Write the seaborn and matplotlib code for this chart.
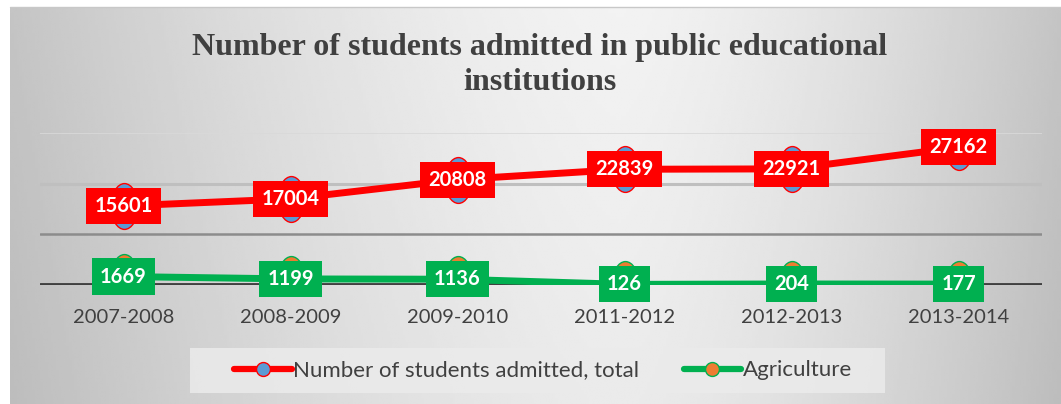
import numpy as np
import pandas as pd
import matplotlib
matplotlib.use("Agg")
import matplotlib.pyplot as plt
import seaborn as sns
from matplotlib.path import Path
from matplotlib.lines import Line2D
from matplotlib.patches import Rectangle

years = ["2007-2008", "2008-2009", "2009-2010", "2011-2012", "2012-2013", "2013-2014"]
total = [15601, 17004, 20808, 22839, 22921, 27162]
agri = [1669, 1199, 1136, 126, 204, 177]
series_names = ["Number of students admitted, total", "Agriculture"]
title = "Number of students admitted in public educational\ninstitutions"

sns.set_theme(style="white")
plt.rcParams['font.family'] = ['Lato', 'DejaVu Sans']

fig = plt.figure(figsize=(10.61, 4.04), dpi=100)

# background gradient panel
bg = fig.add_axes([10/1061, 0, 1 - 10/1061, 1 - 7/404], zorder=-10)
nx, ny = 400, 100
xs = np.linspace(0, 1, nx)
ys = np.linspace(0, 1, ny)
X, Y = np.meshgrid(xs, ys)
c = 0.58
D = np.where(X < c, (c - X) / c, (X - c) / (1 - c))
V = 0.95 - 0.18 * D ** 1.5 - 0.03 * Y
bg.imshow(V, cmap="gray", vmin=0, vmax=1, aspect="auto", extent=[0, 1, 1, 0], interpolation="bilinear")
bg.set_axis_off()
fig.add_artist(Line2D([10/1061, 1], [1 - 6.5/404, 1 - 6.5/404], color="#c8c8c8", lw=1))

ax = fig.add_axes([40/1061, (404-285)/404, 1002/1061, 152/404])
ax.patch.set_alpha(0)

df = pd.DataFrame({"year": years * 2,
                   "value": total + agri,
                   "series": [series_names[0]] * 6 + [series_names[1]] * 6})

circ = Path.unit_circle()
ell = Path(circ.vertices * np.array([27/46, 1.0]), circ.codes)

sns.lineplot(data=df[df.series == series_names[0]], x="year", y="value", sort=False,
             color="#ff0000", lw=5, marker=ell, markersize=33,
             markerfacecolor="#5b9bd5", markeredgecolor="#ff0000", markeredgewidth=1,
             ax=ax, zorder=5, legend=False)
sns.lineplot(data=df[df.series == series_names[1]], x="year", y="value", sort=False,
             color="#00b050", lw=5, marker=ell, markersize=33,
             markerfacecolor="#ed7d31", markeredgecolor="#00b050", markeredgewidth=1,
             ax=ax, zorder=5, legend=False)

for i, v in enumerate(total):
    ax.text(i, v, str(v), ha="center", va="center", color="white", fontsize=14.5,
            fontweight="bold", zorder=10,
            bbox=dict(boxstyle="square,pad=0.4", fc="#ff0000", ec="none"))
for i, v in enumerate(agri):
    ax.text(i, v, str(v), ha="center", va="center", color="white", fontsize=14.5,
            fontweight="bold", zorder=10,
            bbox=dict(boxstyle="square,pad=0.4", fc="#00b050", ec="none"))

ax.set_xlim(-0.5, 5.5)
ax.set_ylim(0, 30000)
ax.set_yticks([])
ax.axhline(30000, color="#d9d9d9", lw=1.2, zorder=1)
ax.axhline(20000, color="#bfbfbf", lw=2.2, zorder=1)
ax.axhline(10000, color="#8c8c8c", lw=1.8, zorder=1)
ax.axhline(0, color="#404040", lw=3.5, zorder=2)
for s in ax.spines.values():
    s.set_visible(False)
ax.set_xlabel("")
ax.set_ylabel("")
ax.tick_params(axis="x", length=0, pad=17, labelsize=14.5, labelcolor="#404040")

fig.text(540/1061, 1 - 65/404, title, ha="center", va="center",
         family=["Liberation Serif"], fontweight="bold", fontsize=23,
         color="#404040", linespacing=1.3)

# legend background box
fig.add_artist(Rectangle((190/1061, 1 - 393/404), 695/1061, 45/404,
                         transform=fig.transFigure, fc="#ebebeb", ec="none",
                         alpha=0.85, zorder=0))

handles = [Line2D([], [], color="#ff0000", lw=4.5, marker="o", markersize=10,
                  mfc="#5b9bd5", mec="#ff0000", mew=1),
           Line2D([], [], color="#00b050", lw=4.5, marker="o", markersize=10,
                  mfc="#ed7d31", mec="#00b050", mew=1)]
leg = fig.legend(handles, series_names, loc="center", bbox_to_anchor=(543/1061, 1 - 370.5/404),
                 ncol=2, frameon=False, fontsize=16, handlelength=2.6, handletextpad=0.05,
                 columnspacing=2.0, borderpad=0.45, borderaxespad=0)
for t in leg.get_texts():
    t.set_color("#404040")

fig.savefig("out.png", dpi=100)
